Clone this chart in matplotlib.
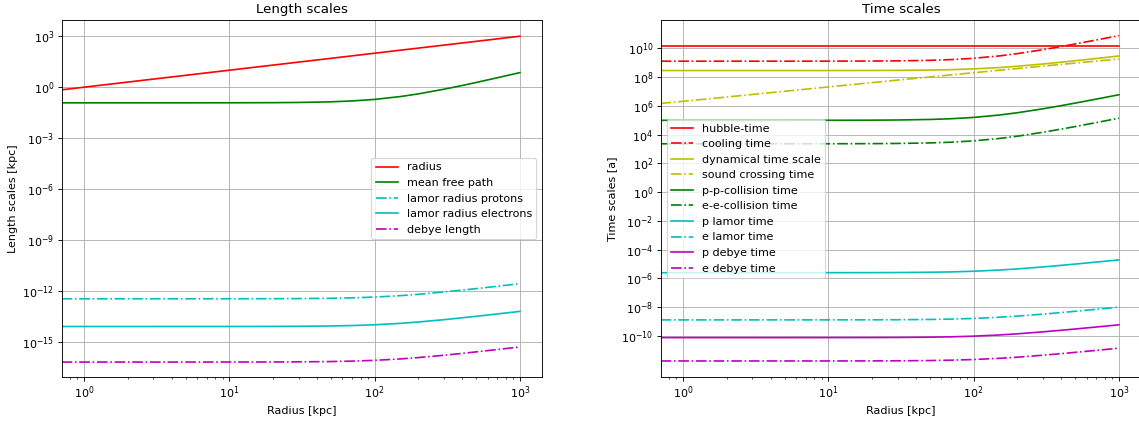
import numpy as np
import matplotlib
matplotlib.use("Agg")
import matplotlib.pyplot as plt
from matplotlib.ticker import NullLocator

# radius samples [kpc]
radius = [0.7, 1, 2, 5, 10, 20, 30, 50, 70, 100, 150, 200, 300, 400, 500,
          700, 1000]

# length scales [kpc]
len_radius = [0.7, 1, 2, 5, 10, 20, 30, 50, 70, 100, 150, 200, 300, 400,
              500, 700, 1000]
len_mfp = [0.12, 0.12, 0.12, 0.1202, 0.1207, 0.1228, 0.1264, 0.1377,
           0.1548, 0.1910, 0.2798, 0.4040, 0.7590, 1.256, 1.895, 3.599,
           7.221]
len_lamor_p = [3.5e-13, 3.5e-13, 3.5e-13, 3.502e-13, 3.51e-13, 3.541e-13,
               3.592e-13, 3.750e-13, 3.975e-13, 4.416e-13, 5.344e-13,
               6.422e-13, 8.803e-13, 1.132e-12, 1.391e-12, 1.917e-12,
               2.715e-12]
len_lamor_e = [8.2e-15, 8.2e-15, 8.2e-15, 8.206e-15, 8.225e-15, 8.297e-15,
               8.416e-15, 8.785e-15, 9.313e-15, 1.035e-14, 1.252e-14,
               1.505e-14, 2.062e-14, 2.653e-14, 3.259e-14, 4.491e-14,
               6.361e-14]
len_debye = [6.6e-17, 6.6e-17, 6.6e-17, 6.605e-17, 6.620e-17, 6.678e-17,
             6.774e-17, 7.071e-17, 7.496e-17, 8.327e-17, 1.008e-16,
             1.211e-16, 1.660e-16, 2.135e-16, 2.623e-16, 3.615e-16,
             5.120e-16]

# time scales [a]
t_hubble = [1.4e10] * 17
t_cool = [1.3e9, 1.3e9, 1.3e9, 1.302e9, 1.308e9, 1.331e9, 1.369e9, 1.492e9,
          1.677e9, 2.069e9, 3.031e9, 4.377e9, 8.223e9, 1.361e10, 2.053e10,
          3.899e10, 7.822e10]
t_dyn = [2.9e8, 2.9e8, 2.9e8, 2.902e8, 2.91e8, 2.939e8, 2.987e8, 3.137e8,
         3.353e8, 3.780e8, 4.699e8, 5.792e8, 8.298e8, 1.106e9, 1.399e9,
         2.012e9, 2.997e9]
t_sound = [1.5e6, 2.1e6, 4.2e6, 1.05e7, 2.1e7, 4.2e7, 6.3e7, 1.04e8,
           1.45e8, 2.05e8, 3.05e8, 4.0e8, 5.9e8, 7.8e8, 9.6e8, 1.33e9,
           1.85e9]
t_pp = [1e5, 1e5, 1e5, 1.0015e5, 1.006e5, 1.024e5, 1.053e5, 1.148e5,
        1.290e5, 1.592e5, 2.331e5, 3.367e5, 6.325e5, 1.047e6, 1.579e6,
        2.999e6, 6.017e6]
t_ee = [2.33e3, 2.33e3, 2.33e3, 2.333e3, 2.344e3, 2.385e3, 2.454e3,
        2.675e3, 3.005e3, 3.709e3, 5.432e3, 7.845e3, 1.474e4, 2.439e4,
        3.680e4, 6.989e4, 1.402e5]
t_lamor_p = [2.5e-6, 2.5e-6, 2.5e-6, 2.502e-6, 2.508e-6, 2.530e-6,
             2.566e-6, 2.679e-6, 2.839e-6, 3.154e-6, 3.817e-6, 4.587e-6,
             6.288e-6, 8.089e-6, 9.935e-6, 1.369e-5, 1.939e-5]
t_lamor_e = [1.3e-9, 1.3e-9, 1.3e-9, 1.301e-9, 1.304e-9, 1.315e-9,
             1.334e-9, 1.393e-9, 1.476e-9, 1.640e-9, 1.985e-9, 2.385e-9,
             3.270e-9, 4.206e-9, 5.166e-9, 7.120e-9, 1.008e-8]
t_debye_p = [7.6e-11, 7.6e-11, 7.6e-11, 7.605e-11, 7.623e-11, 7.690e-11,
             7.800e-11, 8.143e-11, 8.631e-11, 9.588e-11, 1.160e-10,
             1.395e-10, 1.911e-10, 2.459e-10, 3.020e-10, 4.162e-10,
             5.895e-10]
t_debye_e = [1.8e-12, 1.8e-12, 1.8e-12, 1.801e-12, 1.805e-12, 1.821e-12,
             1.847e-12, 1.929e-12, 2.044e-12, 2.271e-12, 2.748e-12,
             3.303e-12, 4.527e-12, 5.824e-12, 7.153e-12, 9.858e-12,
             1.396e-11]

DPI = 80
fig = plt.figure(figsize=(1139 / DPI, 421 / DPI), dpi=DPI)
ax1 = fig.add_axes([62 / 1139, 44 / 421, 480 / 1139, 357 / 421])
ax2 = fig.add_axes([661 / 1139, 44 / 421, 480 / 1139, 357 / 421])

ax1.loglog(radius, len_radius, "r-", label="radius")
ax1.loglog(radius, len_mfp, "g-", label="mean free path")
ax1.loglog(radius, len_lamor_p, "c-.", label="lamor radius protons")
ax1.loglog(radius, len_lamor_e, "c-", label="lamor radius electrons")
ax1.loglog(radius, len_debye, "m-.", label="debye length")
ax1.set_xlim(10 ** -0.152, 10 ** 3.152)
ax1.set_ylim(10 ** -17.06, 10 ** 3.955)
ax1.set_yticks([10.0 ** k for k in range(-15, 4, 3)])
ax1.yaxis.set_minor_locator(NullLocator())
ax1.set_title("Length scales")
ax1.set_xlabel("Radius [kpc]")
ax1.set_ylabel("Length scales [kpc]")
ax1.grid(True)
ax1.legend(loc="center right")

ax2.loglog(radius, t_hubble, "r-", label="hubble-time")
ax2.loglog(radius, t_cool, "r-.", label="cooling time")
ax2.loglog(radius, t_dyn, "y-", label="dynamical time scale")
ax2.loglog(radius, t_sound, "y-.", label="sound crossing time")
ax2.loglog(radius, t_pp, "g-", label="p-p-collision time")
ax2.loglog(radius, t_ee, "g-.", label="e-e-collision time")
ax2.loglog(radius, t_lamor_p, "c-", label="p lamor time")
ax2.loglog(radius, t_lamor_e, "c-.", label="e lamor time")
ax2.loglog(radius, t_debye_p, "m-", label="p debye time")
ax2.loglog(radius, t_debye_e, "m-.", label="e debye time")
ax2.set_xlim(10 ** -0.152, 10 ** 3.152)
ax2.set_ylim(10 ** -12.86, 10 ** 11.98)
ax2.set_yticks([10.0 ** k for k in range(-10, 11, 2)])
ax2.yaxis.set_minor_locator(NullLocator())
ax2.set_title("Time scales")
ax2.set_xlabel("Radius [kpc]")
ax2.set_ylabel("Time scales [a]")
ax2.grid(True)
ax2.legend(loc="center left")

fig.savefig("out.png", dpi=DPI)
